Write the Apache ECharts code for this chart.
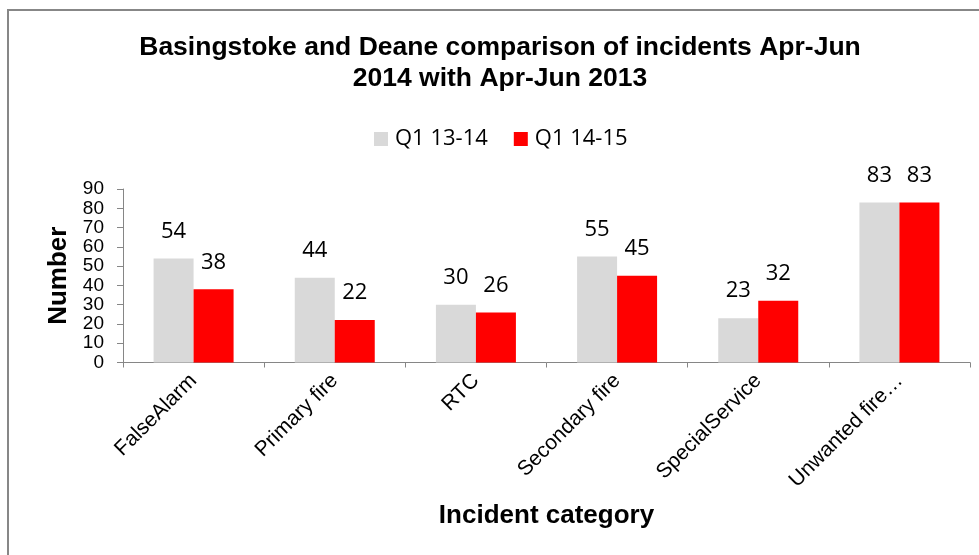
<!DOCTYPE html>
<html>
<head>
<meta charset="utf-8">
<script src="https://cdn.jsdelivr.net/npm/echarts@6/dist/echarts.min.js"></script>
<style>
  html, body { margin: 0; padding: 0; background: #fff; }
  #chart { width: 979px; height: 555px; }
</style>
</head>
<body>
<div id="chart"></div>
<script>
const categories = ['FalseAlarm', 'Primary fire', 'RTC', 'Secondary fire', 'SpecialService', 'Unwanted fire…'];
const seriesNames = ['Q1 13-14', 'Q1 14-15'];
const q1_13_14 = [54, 44, 30, 55, 23, 83];
const q1_14_15 = [38, 22, 26, 45, 32, 83];
const yTicks = { min: 0, max: 90, interval: 10 };
const titleLines = ['Basingstoke and Deane comparison of incidents Apr-Jun', '2014 with Apr-Jun 2013'];

const chart = echarts.init(document.getElementById('chart'), null, { renderer: 'canvas' });
const axisGray = '#868686';
const labelStyle = {
  show: true, position: 'top', distance: 16,
  fontFamily: 'Open Sans', fontSize: 22, color: '#000'
};
chart.setOption({
  animation: false,
  backgroundColor: '#fff',
  title: {
    text: titleLines.join('\n'),
    left: 495,
    textAlign: 'center',
    top: 27,
    padding: 5,
    textStyle: {
      fontFamily: 'Liberation Sans, Arial',
      fontWeight: 'bold',
      fontSize: 26.5,
      lineHeight: 31,
      color: '#000'
    }
  },
  legend: {
    left: 369,
    top: 123,
    itemWidth: 14,
    itemHeight: 14,
    itemGap: 26,
    icon: 'rect',
    textStyle: { fontFamily: 'Open Sans', fontSize: 22, color: '#000', padding: [0, 0, 0, 2] },
    data: seriesNames
  },
  grid: { left: 123, right: 9, top: 189, bottom: 192.5, containLabel: false },
  xAxis: {
    type: 'category',
    data: categories,
    name: 'Incident category',
    nameLocation: 'middle',
    nameGap: 140,
    nameTextStyle: { fontFamily: 'Liberation Sans, Arial', fontWeight: 'bold', fontSize: 26, color: '#000' },
    axisLine: { lineStyle: { color: axisGray, width: 1 } },
    axisTick: { show: true, interval: 0, length: 5, lineStyle: { color: axisGray } },
    axisLabel: { interval: 0, rotate: 45, margin: 15, fontFamily: 'Liberation Sans, Arial', fontSize: 21, color: '#000' }
  },
  yAxis: {
    type: 'value',
    min: yTicks.min, max: yTicks.max, interval: yTicks.interval,
    name: 'Number',
    nameLocation: 'middle',
    nameGap: 51,
    nameTextStyle: { fontFamily: 'Liberation Sans, Arial', fontWeight: 'bold', fontSize: 26, color: '#000' },
    axisLine: { show: true, lineStyle: { color: axisGray, width: 1 } },
    axisTick: { show: true, length: 6, lineStyle: { color: axisGray } },
    splitLine: { show: false },
    axisLabel: { margin: 19, fontFamily: 'Liberation Sans, Arial', fontSize: 19, color: '#000' }
  },
  series: [
    { name: seriesNames[0], type: 'bar', data: q1_13_14, barWidth: 40, barGap: '0%',
      itemStyle: { color: '#d9d9d9' }, label: labelStyle },
    { name: seriesNames[1], type: 'bar', data: q1_14_15, barWidth: 40, barGap: '0%',
      itemStyle: { color: '#ff0000' }, label: labelStyle }
  ],
  graphic: [{
    type: 'rect', silent: true, z: -1,
    shape: { x: 8, y: 10, width: 990, height: 570 },
    style: { fill: 'none', stroke: '#878787', lineWidth: 2 }
  }]
});
</script>
</body>
</html>
